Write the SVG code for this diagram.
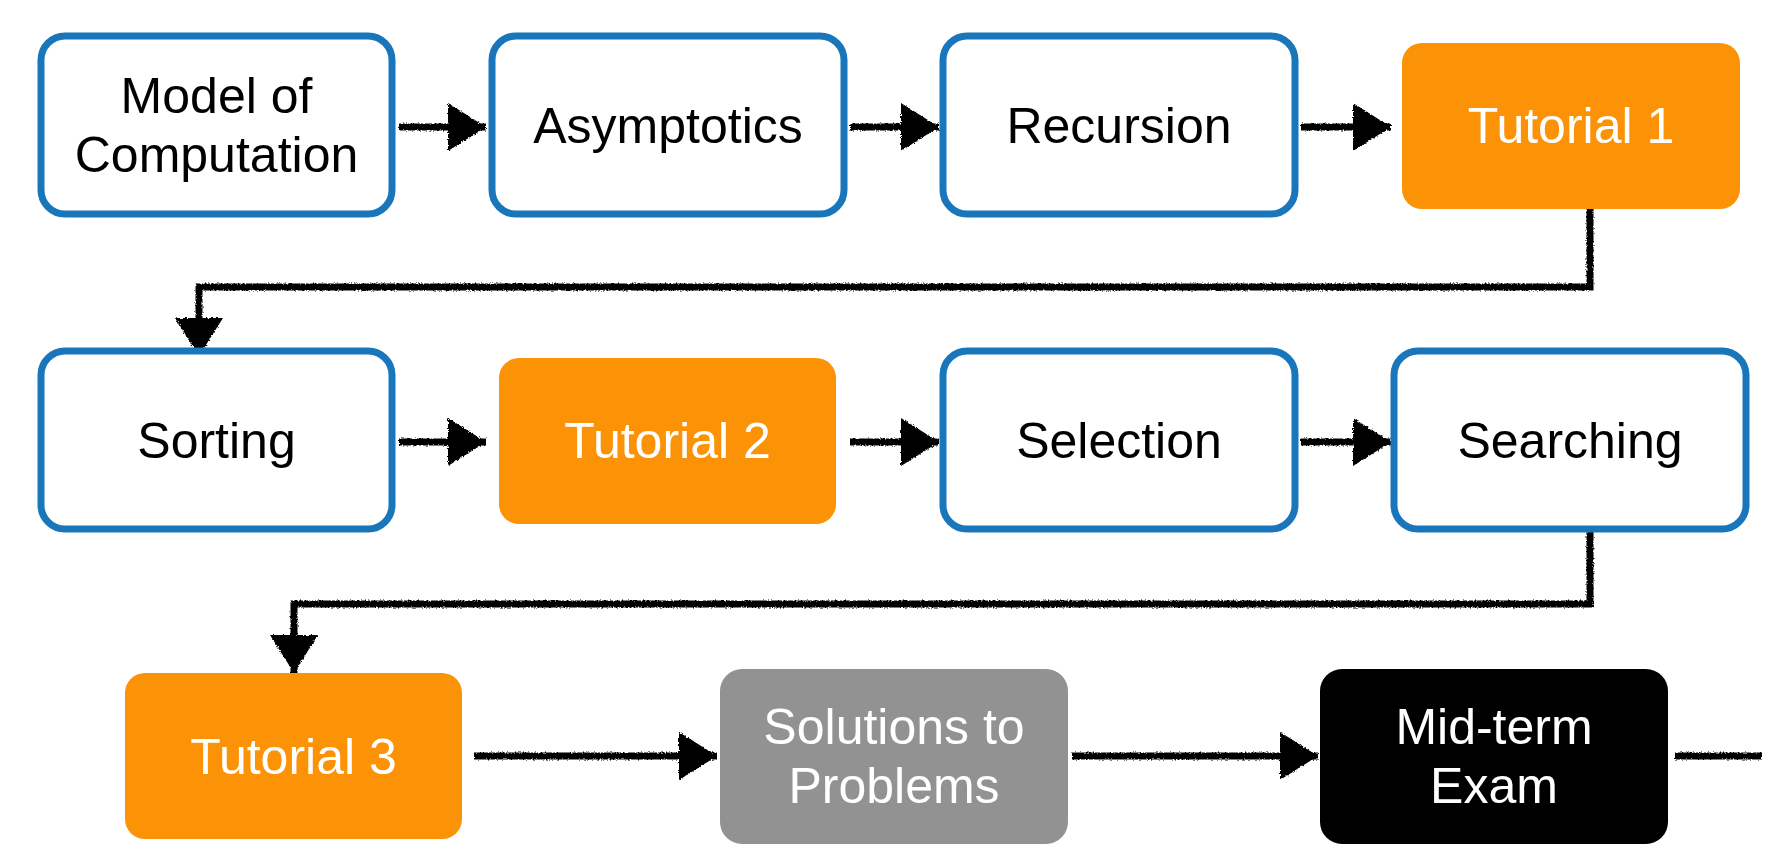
<svg xmlns="http://www.w3.org/2000/svg" width="1777" height="866" viewBox="0 0 1777 866">
<style>
.blue{fill:#ffffff;stroke:#1a76bb;stroke-width:7}
.orange{fill:#fc9306}
.gray{fill:#929292}
.black{fill:#000000}
text{font-family:"Liberation Sans",Arial,sans-serif;font-size:50px;text-anchor:middle}
.dk{fill:#000000}
.lt{fill:#ffffff}
.conn{fill:none;stroke:#000000;stroke-width:7;stroke-linejoin:miter}
</style>
<defs>
<filter id="rough" x="-5%" y="-5%" width="110%" height="110%">
<feTurbulence type="fractalNoise" baseFrequency="0.6" numOctaves="2" seed="3" result="n"/>
<feDisplacementMap in="SourceGraphic" in2="n" scale="3.5" xChannelSelector="R" yChannelSelector="G"/>
</filter>
<marker id="ah" markerUnits="userSpaceOnUse" markerWidth="42" markerHeight="52" refX="40" refY="26" orient="auto">
<path d="M2,2 L40,26 L2,50 Z" fill="#000000"/>
</marker>
</defs>
<rect width="1777" height="866" fill="#ffffff"/>
<g id="connectors" filter="url(#rough)">
<path class="conn" d="M399,127 L486,127" marker-end="url(#ah)"/>
<path class="conn" d="M850,127 L939,127" marker-end="url(#ah)"/>
<path class="conn" d="M1301,127 L1391,127" marker-end="url(#ah)"/>
<path class="conn" d="M1590,209 L1590,287 L199,287 L199,356" marker-end="url(#ah)"/>
<path class="conn" d="M399,442 L486,442" marker-end="url(#ah)"/>
<path class="conn" d="M850,442 L939,442" marker-end="url(#ah)"/>
<path class="conn" d="M1301,442 L1391,442" marker-end="url(#ah)"/>
<path class="conn" d="M1590,529 L1590,604 L294,604 L294,673" marker-end="url(#ah)"/>
<path class="conn" d="M474,756 L717,756" marker-end="url(#ah)"/>
<path class="conn" d="M1072,756 L1318,756" marker-end="url(#ah)"/>
<path class="conn" d="M1675,756 L1762,756"/>
</g>
<g id="model">
<rect class="blue" x="41" y="36" width="351" height="178" rx="24"/>
<text class="dk" x="216.5" y="113">Model of</text>
<text class="dk" x="216.5" y="172">Computation</text>
</g>
<g id="asymptotics">
<rect class="blue" x="492" y="36" width="352" height="178" rx="24"/>
<text class="dk" x="668" y="143">Asymptotics</text>
</g>
<g id="recursion">
<rect class="blue" x="943" y="36" width="352" height="178" rx="24"/>
<text class="dk" x="1119" y="143">Recursion</text>
</g>
<g id="tutorial1">
<rect class="orange" x="1402" y="43" width="338" height="166" rx="20"/>
<text class="lt" x="1571" y="143">Tutorial 1</text>
</g>
<g id="sorting">
<rect class="blue" x="41" y="351" width="351" height="178" rx="24"/>
<text class="dk" x="216.5" y="458">Sorting</text>
</g>
<g id="tutorial2">
<rect class="orange" x="499" y="358" width="337" height="166" rx="20"/>
<text class="lt" x="667.5" y="458">Tutorial 2</text>
</g>
<g id="selection">
<rect class="blue" x="943" y="351" width="352" height="178" rx="24"/>
<text class="dk" x="1119" y="458">Selection</text>
</g>
<g id="searching">
<rect class="blue" x="1394" y="351" width="352" height="178" rx="24"/>
<text class="dk" x="1570" y="458">Searching</text>
</g>
<g id="tutorial3">
<rect class="orange" x="125" y="673" width="337" height="166" rx="20"/>
<text class="lt" x="293.5" y="774">Tutorial 3</text>
</g>
<g id="solutions">
<rect class="gray" x="720" y="669" width="348" height="175" rx="22"/>
<text class="lt" x="894" y="744">Solutions to</text>
<text class="lt" x="894" y="803">Problems</text>
</g>
<g id="midterm">
<rect class="black" x="1320" y="669" width="348" height="175" rx="22"/>
<text class="lt" x="1494" y="744">Mid-term</text>
<text class="lt" x="1494" y="803">Exam</text>
</g>
</svg>
